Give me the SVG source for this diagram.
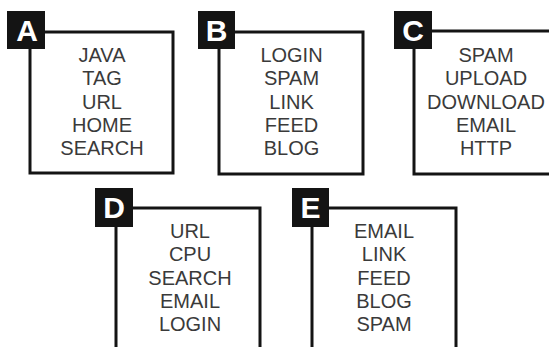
<svg xmlns="http://www.w3.org/2000/svg" width="549" height="347" viewBox="0 0 549 347">
<style>
.box{fill:#fff;stroke:#141414;stroke-width:3}
.tag{fill:#141414}
.ltr{fill:#fff;font-family:"Liberation Sans",Arial,sans-serif;font-weight:bold;font-size:30px;text-anchor:middle}
.itm{fill:#3a3a3a;font-family:"Liberation Sans",Arial,sans-serif;font-size:20px;text-anchor:middle}
</style>
<rect width="549" height="347" fill="#fff"/>
<g id="connectors"></g>
<g id="nodeA">
<rect class="box" x="30" y="32" width="143" height="141"/>
<rect class="tag" x="7" y="11" width="38" height="38"/>
<text class="ltr" x="27" y="41">A</text>
<text class="itm" x="102" y="62">JAVA</text>
<text class="itm" x="102" y="85.3">TAG</text>
<text class="itm" x="102" y="108.6">URL</text>
<text class="itm" x="102" y="132">HOME</text>
<text class="itm" x="102" y="155.3">SEARCH</text>
</g>
<g id="nodeB">
<rect class="box" x="219" y="32" width="144" height="142"/>
<rect class="tag" x="198" y="11" width="37" height="38"/>
<text class="ltr" x="216.5" y="41">B</text>
<text class="itm" x="291.5" y="62">LOGIN</text>
<text class="itm" x="291.5" y="85.3">SPAM</text>
<text class="itm" x="291.5" y="108.6">LINK</text>
<text class="itm" x="291.5" y="132">FEED</text>
<text class="itm" x="291.5" y="155.3">BLOG</text>
</g>
<g id="nodeC">
<rect class="box" x="414" y="31" width="144" height="143"/>
<rect class="tag" x="394" y="11" width="38" height="38"/>
<text class="ltr" x="413" y="41">C</text>
<text class="itm" x="486" y="62">SPAM</text>
<text class="itm" x="486" y="85.3">UPLOAD</text>
<text class="itm" x="486" y="108.6">DOWNLOAD</text>
<text class="itm" x="486" y="132">EMAIL</text>
<text class="itm" x="486" y="155.3">HTTP</text>
</g>
<g id="nodeD">
<rect class="box" x="116" y="208" width="144" height="150"/>
<rect class="tag" x="95" y="188" width="38" height="39"/>
<text class="ltr" x="114" y="218">D</text>
<text class="itm" x="190" y="238">URL</text>
<text class="itm" x="190" y="261.3">CPU</text>
<text class="itm" x="190" y="284.6">SEARCH</text>
<text class="itm" x="190" y="308">EMAIL</text>
<text class="itm" x="190" y="331.3">LOGIN</text>
</g>
<g id="nodeE">
<rect class="box" x="312" y="208" width="144" height="150"/>
<rect class="tag" x="292" y="188" width="37" height="39"/>
<text class="ltr" x="310.5" y="218">E</text>
<text class="itm" x="384" y="238">EMAIL</text>
<text class="itm" x="384" y="261.3">LINK</text>
<text class="itm" x="384" y="284.6">FEED</text>
<text class="itm" x="384" y="308">BLOG</text>
<text class="itm" x="384" y="331.3">SPAM</text>
</g>
</svg>
